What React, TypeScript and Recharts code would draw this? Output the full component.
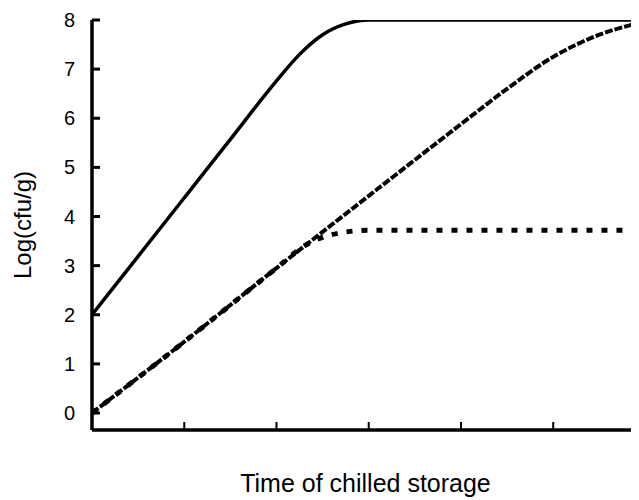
import { LineChart, Line, XAxis, YAxis, Label } from "recharts";

// time (axis units, one per x tick) and log counts
const solidTime = [0, 0.5, 1, 1.5, 2, 2.25, 2.5, 2.75, 3, 4, 5, 5.93];
const solidLog = [2, 3.19, 4.38, 5.57, 6.76, 7.3, 7.7, 7.92, 8, 8, 8, 8];

const dashedTime = [0, 1, 2, 3, 4, 4.5, 5, 5.5, 5.93];
const dashedLog = [0, 1.45, 2.95, 4.42, 5.88, 6.6, 7.25, 7.7, 7.94];

const dottedTime = [0, 1, 2, 2.3, 2.6, 3, 4, 5, 5.93];
const dottedLog = [0, 1.45, 2.95, 3.4, 3.63, 3.72, 3.72, 3.72, 3.72];

const xTicks = [0, 1, 2, 3, 4, 5];
const yTicks = [0, 1, 2, 3, 4, 5, 6, 7, 8];

const toPoints = (t: number[], v: number[]) => t.map((x, i) => ({ x, y: v[i] }));

const solidData = toPoints(solidTime, solidLog);
const dashedData = toPoints(dashedTime, dashedLog);
const dottedData = toPoints(dottedTime, dottedLog);

const FONT = "'Liberation Sans', Arial, sans-serif";

function YTick(props: any) {
  const { x, y, payload } = props;
  return (
    <g>
      <line x1={x} x2={x + 8} y1={y} y2={y} stroke="#000" strokeWidth={3} />
      <text
        x={x - 17}
        y={y}
        textAnchor="end"
        dominantBaseline="central"
        fontSize={20}
        fontFamily={FONT}
        fill="#000"
      >
        {payload.value}
      </text>
    </g>
  );
}

function XTick(props: any) {
  const { x, y } = props;
  return <line x1={x} x2={x} y1={y} y2={y - 8} stroke="#000" strokeWidth={2} />;
}

function YTitle(props: any) {
  const vb = props.viewBox;
  const cy = vb.y + vb.height / 2;
  return (
    <text
      transform={`translate(14,${cy}) rotate(-90)`}
      textAnchor="middle"
      dominantBaseline="central"
      fontSize={24}
      fontFamily={FONT}
      fill="#000"
    >
      Log(cfu/g)
    </text>
  );
}

function XTitle(props: any) {
  const vb = props.viewBox;
  return (
    <text
      x={vb.x + vb.width / 2}
      y={vb.y + 62}
      textAnchor="middle"
      fontSize={25}
      fontFamily={FONT}
      fill="#000"
    >
      Time of chilled storage
    </text>
  );
}

export default function App() {
  return (
    <div style={{ width: 631, height: 492, background: "#fff" }}>
      <LineChart width={631} height={492} margin={{ top: 12, right: 0, bottom: 0, left: 0 }}>
        <XAxis
          type="number"
          dataKey="x"
          domain={[0, 5.93]}
          ticks={xTicks}
          allowDataOverflow
          height={70}
          tickSize={0}
          tickMargin={0}
          tickLine={false}
          tick={<XTick />}
          axisLine={{ stroke: "#000", strokeWidth: 3.5 }}
        >
          <Label content={<XTitle />} />
        </XAxis>
        <YAxis
          type="number"
          dataKey="y"
          domain={[-0.346, 8]}
          ticks={yTicks}
          allowDataOverflow
          width={84}
          tickSize={0}
          tickMargin={0}
          tickLine={false}
          tick={<YTick />}
          axisLine={{ stroke: "#000", strokeWidth: 3.5 }}
        >
          <Label content={<YTitle />} />
        </YAxis>
        <Line
          data={dottedData}
          dataKey="y"
          type="monotone"
          stroke="#000"
          strokeWidth={5}
          strokeDasharray="6 9"
          dot={false}
          isAnimationActive={false}
        />
        <Line
          data={dashedData}
          dataKey="y"
          type="monotone"
          stroke="#000"
          strokeWidth={4}
          strokeDasharray="8 2"
          dot={false}
          isAnimationActive={false}
        />
        <Line
          data={solidData}
          dataKey="y"
          type="monotone"
          stroke="#000"
          strokeWidth={3.5}
          dot={false}
          isAnimationActive={false}
        />
      </LineChart>
    </div>
  );
}
